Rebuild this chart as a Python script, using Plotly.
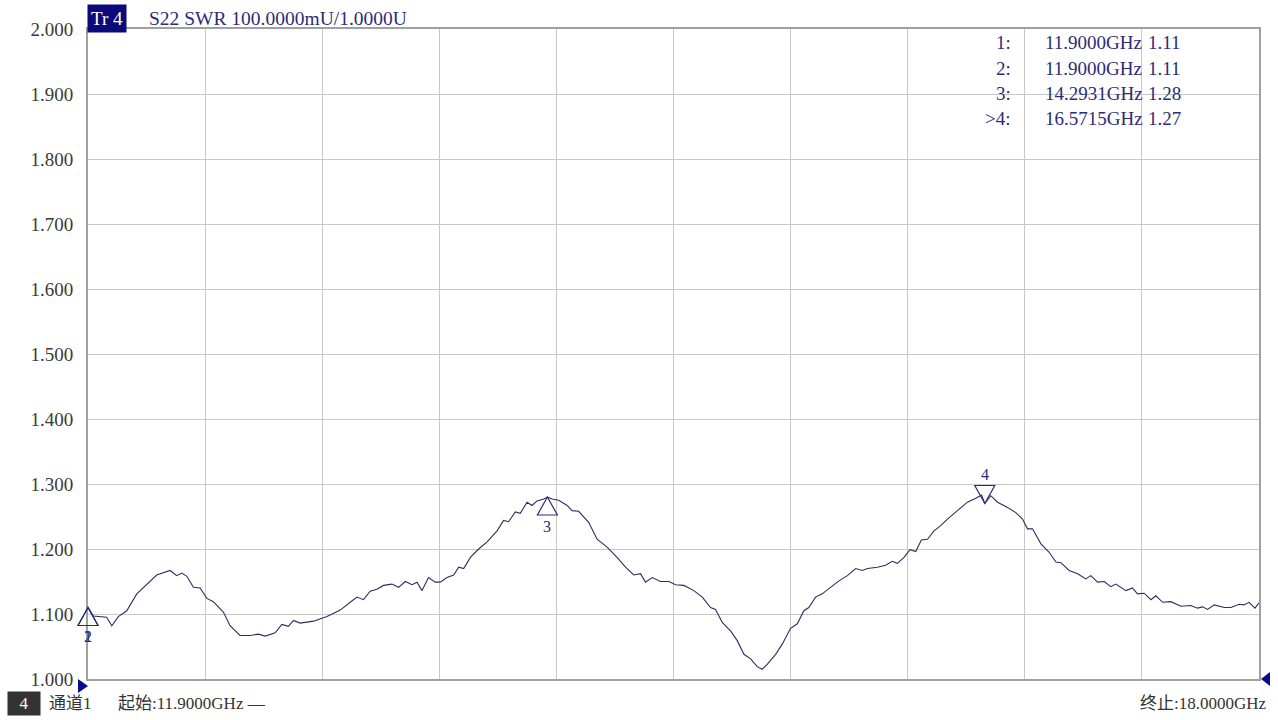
import plotly.graph_objects as go

# S22 SWR trace, 11.9 - 18.0 GHz
freq_ghz = [
    11.900, 11.928, 11.997, 12.024, 12.058, 12.102, 12.154, 12.206, 12.258, 12.328,
    12.362, 12.389, 12.415, 12.449, 12.484, 12.519, 12.553, 12.605, 12.640, 12.692,
    12.745, 12.788, 12.823, 12.875, 12.910, 12.944, 12.970, 13.005, 13.075, 13.145,
    13.214, 13.266, 13.301, 13.335, 13.370, 13.405, 13.440, 13.483, 13.518, 13.553,
    13.588, 13.614, 13.640, 13.674, 13.709, 13.735, 13.770, 13.805, 13.831, 13.857,
    13.892, 13.935, 13.979, 14.031, 14.065, 14.091, 14.126, 14.152, 14.187, 14.213,
    14.239, 14.274, 14.2931, 14.318, 14.352, 14.396, 14.422, 14.456, 14.508, 14.552,
    14.604, 14.656, 14.700, 14.743, 14.778, 14.804, 14.839, 14.882, 14.926, 14.961,
    15.004, 15.056, 15.100, 15.143, 15.169, 15.204, 15.247, 15.282, 15.317, 15.352,
    15.386, 15.412, 15.439, 15.482, 15.517, 15.560, 15.595, 15.629, 15.655, 15.690,
    15.725, 15.768, 15.812, 15.856, 15.899, 15.934, 15.960, 16.012, 16.055, 16.090,
    16.116, 16.151, 16.182, 16.212, 16.241, 16.273, 16.307, 16.342, 16.377, 16.429,
    16.481, 16.525, 16.555, 16.5715, 16.603, 16.638, 16.690, 16.733, 16.768, 16.794,
    16.820, 16.864, 16.907, 16.942, 16.968, 17.011, 17.055, 17.098, 17.124, 17.159,
    17.194, 17.228, 17.254, 17.307, 17.341, 17.367, 17.402, 17.437, 17.463, 17.498,
    17.541, 17.593, 17.645, 17.680, 17.706, 17.732, 17.767, 17.819, 17.854, 17.896,
    17.922, 17.948, 17.979, 18.000,
]
swr = [
    1.110, 1.097, 1.095, 1.082, 1.096, 1.105, 1.131, 1.146, 1.160, 1.167,
    1.159, 1.163, 1.158, 1.141, 1.140, 1.124, 1.119, 1.103, 1.082, 1.067,
    1.067, 1.069, 1.066, 1.071, 1.084, 1.081, 1.090, 1.086, 1.089, 1.096,
    1.106, 1.118, 1.126, 1.122, 1.135, 1.138, 1.144, 1.146, 1.141, 1.150,
    1.145, 1.149, 1.136, 1.156, 1.149, 1.149, 1.156, 1.160, 1.172, 1.170,
    1.187, 1.200, 1.211, 1.228, 1.244, 1.242, 1.257, 1.255, 1.272, 1.267,
    1.274, 1.277, 1.280, 1.277, 1.275, 1.267, 1.259, 1.258, 1.241, 1.215,
    1.203, 1.187, 1.172, 1.160, 1.162, 1.149, 1.156, 1.150, 1.150, 1.145,
    1.144, 1.136, 1.126, 1.110, 1.107, 1.087, 1.074, 1.059, 1.038, 1.031,
    1.019, 1.015, 1.023, 1.038, 1.054, 1.078, 1.085, 1.105, 1.110, 1.126,
    1.131, 1.141, 1.151, 1.159, 1.170, 1.167, 1.170, 1.172, 1.175, 1.181,
    1.178, 1.187, 1.199, 1.196, 1.214, 1.215, 1.228, 1.236, 1.246, 1.259,
    1.272, 1.278, 1.283, 1.270, 1.282, 1.272, 1.264, 1.256, 1.246, 1.231,
    1.231, 1.208, 1.195, 1.180, 1.179, 1.167, 1.162, 1.154, 1.159, 1.149,
    1.150, 1.142, 1.146, 1.136, 1.140, 1.131, 1.132, 1.122, 1.128, 1.118,
    1.119, 1.112, 1.113, 1.109, 1.111, 1.107, 1.114, 1.110, 1.110, 1.115,
    1.114, 1.118, 1.109, 1.117,
]

# Markers
marker_ids = ["1", "2", "3", "4"]
marker_prefix = ["", "", "", ">"]
marker_freq = [11.9000, 11.9000, 14.2931, 16.5715]
marker_swr = [1.11, 1.11, 1.28, 1.27]
marker_dir = ["up", "up", "up", "down"]

y_ticks = [1.0, 1.1, 1.2, 1.3, 1.4, 1.5, 1.6, 1.7, 1.8, 1.9, 2.0]
start_ghz, stop_ghz = 11.9, 18.0
y_min, y_max = 1.0, 2.0

W, H = 1278, 720
L, R, T, B = 88, 19, 29, 41
PW, PH = W - L - R, H - T - B

SERIF = "Liberation Serif, Noto Sans CJK SC, serif"
NAVY = "#2c2c78"
TRACE = "#2e2e60"


def px_x(px):
    return (px - L) / PW


def px_y(py):
    return (H - B - py) / PH


fig = go.Figure()
fig.add_trace(go.Scatter(
    x=freq_ghz, y=swr, mode="lines",
    line=dict(color=TRACE, width=1.1),
    hoverinfo="skip", showlegend=False,
))

shapes = []
annotations = []

# marker triangles with apex on the trace point (paper refs so the
# edge marker is not clipped by the plot area)
for mid, f, v, d in zip(marker_ids, marker_freq, marker_swr, marker_dir):
    if d == "up":
        path = "M 0,0 L -10,-18 L 10,-18 Z"
        shift = -29
    else:
        path = "M 0,0 L -10,18 L 10,18 Z"
        shift = 29
    shapes.append(dict(
        type="path", xref="paper", yref="paper",
        xsizemode="pixel", ysizemode="pixel",
        xanchor=(f - start_ghz) / (stop_ghz - start_ghz),
        yanchor=(v - y_min) / (y_max - y_min),
        path=path,
        line=dict(color=NAVY, width=1.2), fillcolor="rgba(0,0,0,0)",
    ))
    annotations.append(dict(
        x=f, y=v, xref="x", yref="y", text=mid, showarrow=False,
        yshift=shift, font=dict(family=SERIF, size=16, color=NAVY),
        xanchor="center", yanchor="middle",
    ))

# start / stop indicators
shapes.append(dict(
    type="path", xref="paper", yref="paper", xsizemode="pixel", ysizemode="pixel",
    xanchor=0, yanchor=0, path="M -10,0 L 0,-7 L -10,-14 Z",
    fillcolor="#0a0a8c", line=dict(width=0),
))
shapes.append(dict(
    type="path", xref="paper", yref="paper", xsizemode="pixel", ysizemode="pixel",
    xanchor=1, yanchor=0, path="M 11,7 L 2,0 L 11,-7 Z",
    fillcolor="#0a0a8c", line=dict(width=0),
))

# trace header
annotations.append(dict(
    x=px_x(87), y=px_y(18.5), xref="paper", yref="paper", text="Tr 4",
    showarrow=False, xanchor="left", yanchor="middle",
    bgcolor="#0a0a7a", borderpad=3,
    font=dict(family=SERIF, size=19, color="white"),
))
annotations.append(dict(
    x=px_x(147), y=px_y(18.5), xref="paper", yref="paper",
    text="S22 SWR 100.0000mU/1.0000U",
    showarrow=False, xanchor="left", yanchor="middle",
    font=dict(family=SERIF, size=19.5, color=NAVY),
))

# marker readout table
for i, (mid, pre, f, v) in enumerate(zip(marker_ids, marker_prefix, marker_freq, marker_swr)):
    row_y = px_y(43 + 25 * i)
    annotations.append(dict(
        x=px_x(1013), y=row_y, xref="paper", yref="paper", text=f"{pre}{mid}:",
        showarrow=False, xanchor="right", yanchor="middle",
        font=dict(family=SERIF, size=19, color=NAVY),
    ))
    annotations.append(dict(
        x=px_x(1043), y=row_y, xref="paper", yref="paper", text=f"{f:.4f}GHz",
        showarrow=False, xanchor="left", yanchor="middle",
        font=dict(family=SERIF, size=19, color=NAVY),
    ))
    annotations.append(dict(
        x=px_x(1146), y=row_y, xref="paper", yref="paper", text=f"{v:.2f}",
        showarrow=False, xanchor="left", yanchor="middle",
        font=dict(family=SERIF, size=19, color=NAVY),
    ))

# channel status line
annotations.append(dict(
    x=px_x(7), y=px_y(703), xref="paper", yref="paper", text="4",
    showarrow=False, xanchor="left", yanchor="middle",
    bgcolor="#333333", borderpad=2, width=28,
    font=dict(family=SERIF, size=17, color="white"),
))
annotations.append(dict(
    x=px_x(47), y=px_y(703), xref="paper", yref="paper", text="通道1",
    showarrow=False, xanchor="left", yanchor="middle",
    font=dict(family=SERIF, size=17, color="#333333"),
))
annotations.append(dict(
    x=px_x(116), y=px_y(703), xref="paper", yref="paper",
    text=f"起始:{start_ghz:.4f}GHz —",
    showarrow=False, xanchor="left", yanchor="middle",
    font=dict(family=SERIF, size=17, color="#333333"),
))
annotations.append(dict(
    x=px_x(1269), y=px_y(703), xref="paper", yref="paper",
    text=f"终止:{stop_ghz:.4f}GHz",
    showarrow=False, xanchor="right", yanchor="middle",
    font=dict(family=SERIF, size=17, color="#333333"),
))

fig.update_layout(
    width=W, height=H,
    margin=dict(l=L, r=R, t=T, b=B, pad=0),
    paper_bgcolor="white", plot_bgcolor="white",
    shapes=shapes, annotations=annotations,
    showlegend=False,
)
fig.update_xaxes(
    range=[start_ghz, stop_ghz], tick0=start_ghz, dtick=(stop_ghz - start_ghz) / 10,
    showticklabels=False, showgrid=True, gridcolor="#c8c8c8", gridwidth=1,
    zeroline=False, showline=True, mirror=True, linecolor="#a0a0a0", linewidth=2,
    ticks="",
)
fig.update_yaxes(
    range=[y_min, y_max], tickvals=y_ticks, ticktext=[f"{t:.3f}" for t in y_ticks],
    showgrid=True, gridcolor="#c8c8c8", gridwidth=1,
    zeroline=False, showline=True, mirror=True, linecolor="#a0a0a0", linewidth=2,
    ticks="", ticklabelstandoff=9,
    tickfont=dict(family=SERIF, size=19, color="#3a3a3a"),
)

fig.write_html("out.html")
